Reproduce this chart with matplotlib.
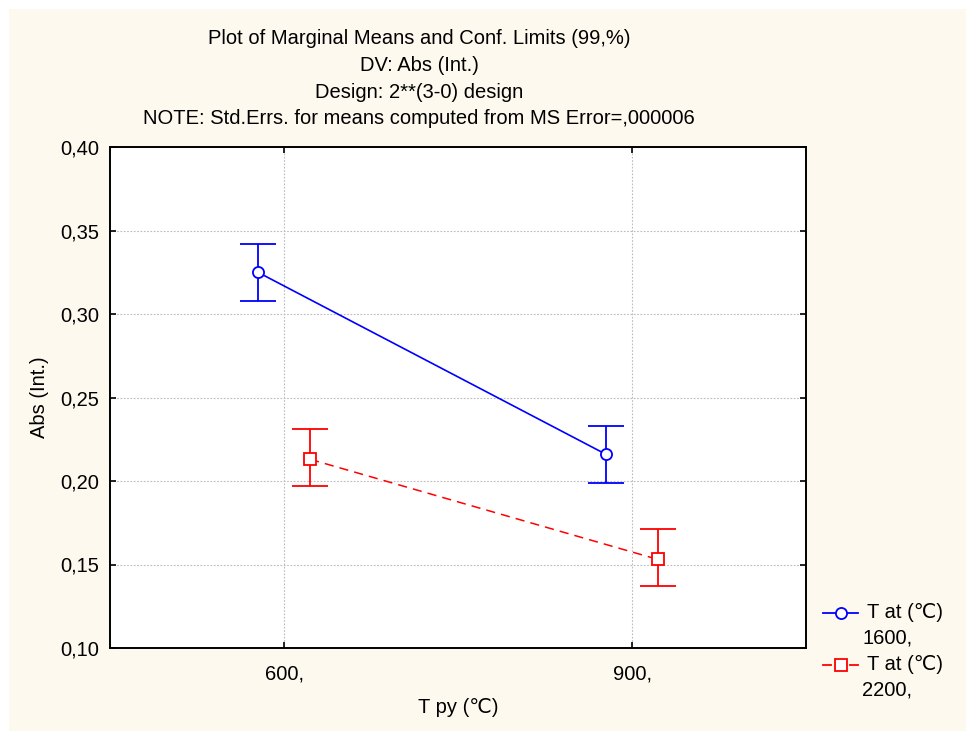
import numpy as np
import matplotlib
matplotlib.use("Agg")
import matplotlib.pyplot as plt
from matplotlib.patches import Rectangle
from matplotlib.lines import Line2D

plt.rcParams['font.family'] = ['Liberation Sans', 'DejaVu Sans']

# marginal means with 99% confidence limits
tpy_labels = ["600,", "900,"]
mean_1600 = [0.325, 0.216]
low_1600 = [0.308, 0.199]
high_1600 = [0.342, 0.233]
mean_2200 = [0.213, 0.153]
low_2200 = [0.197, 0.137]
high_2200 = [0.231, 0.171]
legend_labels = [("T at (\u2103)", "1600,"), ("T at (\u2103)", "2200,")]

title_lines = ["Plot of Marginal Means and Conf. Limits (99,%)",
               "DV: Abs (Int.)",
               "Design: 2**(3-0) design",
               "NOTE: Std.Errs. for means computed from MS Error=,000006"]

FS = 14.5
BLUE = "#0000FF"
RED = "#FF0000"
DASH = (0, (6, 4))

fig = plt.figure(figsize=(9.66, 7.31), dpi=100, facecolor="white")
fig.patches.append(Rectangle((9/966, 0), 1, 1 - 9/731, transform=fig.transFigure,
                             facecolor="#FDF9EE", edgecolor="none", zorder=-10))

ax = fig.add_axes([110/966, 83/731, 696/966, 501/731])
ax.set_facecolor("white")

x = np.arange(len(tpy_labels))
off = 0.075

m = np.array(mean_1600)
ax.errorbar(x - off, m, yerr=[m - np.array(low_1600), np.array(high_1600) - m],
            color=BLUE, lw=1.2, marker="o", ms=8, mfc="white", mec=BLUE,
            mew=1.3, capsize=13, capthick=1.3, elinewidth=1.3, zorder=3)

m = np.array(mean_2200)
ax.errorbar(x + off, m, yerr=[m - np.array(low_2200), np.array(high_2200) - m],
            color=RED, lw=1.1, ls=DASH, marker="s", ms=8, mfc="white",
            mec=RED, mew=1.3, capsize=13, capthick=1.3, elinewidth=1.3, zorder=3)

ax.set_xlim(-0.5, 1.5)
ax.set_ylim(0.10, 0.40)
ax.set_xticks(x)
ax.set_xticklabels(tpy_labels)
yt = np.arange(0.10, 0.401, 0.05)
ax.set_yticks(yt)
ax.set_yticklabels([f"{v:.2f}".replace(".", ",") for v in yt])

ax.grid(True, color="#BBBBBB", ls=(0, (1.5, 1.5)), lw=0.8)
ax.set_axisbelow(True)
for s in ax.spines.values():
    s.set_linewidth(1.4)
    s.set_color("black")
ax.tick_params(direction="in", length=4, width=1.2, top=True, right=True,
               labelsize=FS)
ax.tick_params(axis="y", pad=8)
ax.tick_params(axis="x", pad=12)

ax.set_xlabel("T py (\u2103)", fontsize=FS, labelpad=10)
ax.set_ylabel("Abs (Int.)", fontsize=FS, labelpad=8)

for i, line in enumerate(title_lines):
    fig.text(419/966, 1 - (39 + 26.5*i)/731, line, ha="center", va="center",
             fontsize=FS)

# legend drawn at the right of the plot frame
styles = [dict(color=BLUE, marker="o", segs=[(823, 858)]),
          dict(color=RED, marker="s", segs=[(823, 831), (850, 858)])]
for i, (st, (l1, l2)) in enumerate(zip(styles, legend_labels)):
    yy = 1 - (613 + 51.5*i)/731
    for a, b in st["segs"]:
        fig.lines.append(Line2D([a/966, b/966], [yy, yy], transform=fig.transFigure,
                                color=st["color"], lw=1.3))
    fig.lines.append(Line2D([840.5/966], [yy], transform=fig.transFigure,
                            marker=st["marker"], ms=8, mfc="white",
                            mec=st["color"], mew=1.3, ls="none"))
    fig.text(867/966, yy, l1, ha="left", va="center", fontsize=FS)
    fig.text(862/966, yy - 25.5/731, l2, ha="left", va="center", fontsize=FS)

fig.savefig("out.png", dpi=100, facecolor=fig.get_facecolor())
